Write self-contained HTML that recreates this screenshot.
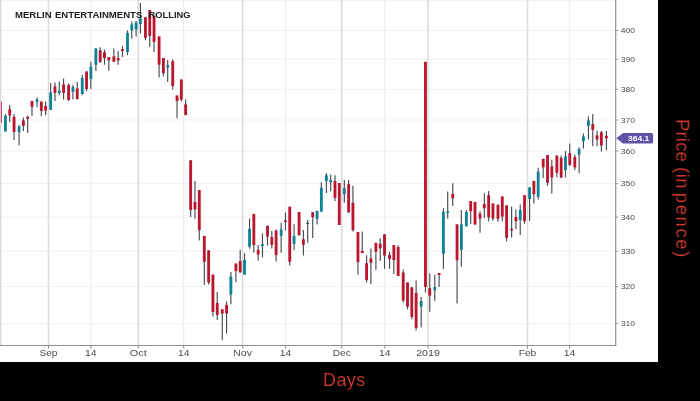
<!DOCTYPE html>
<html><head><meta charset="utf-8"><style>
html,body{margin:0;padding:0;background:#000;}
body{width:700px;height:401px;overflow:hidden;position:relative;font-family:"Liberation Sans",sans-serif;}
#chart{position:absolute;left:0;top:0;width:658px;height:361.8px;background:#fff;overflow:hidden;}
svg{position:absolute;left:0;top:0;will-change:transform;}
svg text{font-family:"Liberation Sans",sans-serif;}
#days{position:absolute;left:322.6px;letter-spacing:0.4px;top:369.5px;font-size:18px;line-height:21px;color:#cf392e;will-change:transform;-webkit-text-stroke:0.12px #000;white-space:nowrap;}
#price{position:absolute;left:0;top:0;width:0;height:0;transform-origin:0 0;transform:translate(692.3px,0px) rotate(90deg);will-change:transform;}
#price span{position:absolute;top:0;font-size:18.5px;line-height:20px;color:#cf392e;white-space:nowrap;-webkit-text-stroke:0.12px #000;}
</style></head><body>
<div id="chart">
<svg width="658" height="362" viewBox="0 0 658 362">
<line x1="0" x2="615.6" y1="30.4" y2="30.4" stroke="#f1f1f1" stroke-width="1"/>
<line x1="0" x2="615.6" y1="59.3" y2="59.3" stroke="#f1f1f1" stroke-width="1"/>
<line x1="0" x2="615.6" y1="89.4" y2="89.4" stroke="#f1f1f1" stroke-width="1"/>
<line x1="0" x2="615.6" y1="120.0" y2="120.0" stroke="#f1f1f1" stroke-width="1"/>
<line x1="0" x2="615.6" y1="151.2" y2="151.2" stroke="#f1f1f1" stroke-width="1"/>
<line x1="0" x2="615.6" y1="183.6" y2="183.6" stroke="#f1f1f1" stroke-width="1"/>
<line x1="0" x2="615.6" y1="217.1" y2="217.1" stroke="#f1f1f1" stroke-width="1"/>
<line x1="0" x2="615.6" y1="251.3" y2="251.3" stroke="#f1f1f1" stroke-width="1"/>
<line x1="0" x2="615.6" y1="286.6" y2="286.6" stroke="#f1f1f1" stroke-width="1"/>
<line x1="0" x2="615.6" y1="323.6" y2="323.6" stroke="#f1f1f1" stroke-width="1"/>
<line x1="0" x2="615.6" y1="0.3" y2="0.3" stroke="#f1f1f1" stroke-width="1"/>
<line x1="90.8" x2="90.8" y1="0" y2="345.5" stroke="#eeeeee" stroke-width="1.2"/>
<line x1="183.7" x2="183.7" y1="0" y2="345.5" stroke="#eeeeee" stroke-width="1.2"/>
<line x1="285.5" x2="285.5" y1="0" y2="345.5" stroke="#eeeeee" stroke-width="1.2"/>
<line x1="384.8" x2="384.8" y1="0" y2="345.5" stroke="#eeeeee" stroke-width="1.2"/>
<line x1="569.6" x2="569.6" y1="0" y2="345.5" stroke="#eeeeee" stroke-width="1.2"/>
<line x1="48.5" x2="48.5" y1="0" y2="345.5" stroke="#dbdbdb" stroke-width="1.5"/>
<line x1="138.2" x2="138.2" y1="0" y2="345.5" stroke="#dbdbdb" stroke-width="1.5"/>
<line x1="242.6" x2="242.6" y1="0" y2="345.5" stroke="#dbdbdb" stroke-width="1.5"/>
<line x1="341.8" x2="341.8" y1="0" y2="345.5" stroke="#dbdbdb" stroke-width="1.5"/>
<line x1="428.0" x2="428.0" y1="0" y2="345.5" stroke="#dbdbdb" stroke-width="1.5"/>
<line x1="527.5" x2="527.5" y1="0" y2="345.5" stroke="#dbdbdb" stroke-width="1.5"/>
<line x1="0.6" x2="0.6" y1="0" y2="345.5" stroke="#d4d4dc" stroke-width="1.3"/>
<line x1="1.45" x2="1.45" y1="101.6" y2="122.9" stroke="#d63a55" stroke-width="1"/>
<line x1="5.43" x2="5.43" y1="114.3" y2="131.5" stroke="#444c56" stroke-width="1.15"/>
<rect x="4.01" y="115.9" width="2.84" height="15.6" fill="#0f8296"/>
<line x1="9.73" x2="9.73" y1="104.9" y2="122.3" stroke="#444c56" stroke-width="1.15"/>
<rect x="8.31" y="109.3" width="2.84" height="6.2" fill="#ba162e"/>
<line x1="14.04" x2="14.04" y1="113.9" y2="139.9" stroke="#444c56" stroke-width="1.15"/>
<rect x="12.62" y="116.9" width="2.84" height="15.0" fill="#ba162e"/>
<line x1="19.07" x2="19.07" y1="124.9" y2="145.2" stroke="#444c56" stroke-width="1.15"/>
<rect x="17.65" y="126.5" width="2.84" height="5.4" fill="#0f8296"/>
<line x1="23.38" x2="23.38" y1="117.5" y2="130.9" stroke="#444c56" stroke-width="1.15"/>
<rect x="21.96" y="120.3" width="2.84" height="5.6" fill="#ba162e"/>
<line x1="27.68" x2="27.68" y1="115.5" y2="132.9" stroke="#444c56" stroke-width="1.15"/>
<rect x="26.26" y="116.9" width="2.84" height="2.0" fill="#ba162e"/>
<line x1="31.99" x2="31.99" y1="100.9" y2="115.9" stroke="#444c56" stroke-width="1.15"/>
<rect x="30.57" y="100.9" width="2.84" height="6.0" fill="#ba162e"/>
<line x1="37.02" x2="37.02" y1="97.5" y2="107.3" stroke="#444c56" stroke-width="1.15"/>
<rect x="35.60" y="99.5" width="2.84" height="2.4" fill="#0f8296"/>
<line x1="41.33" x2="41.33" y1="101.5" y2="116.3" stroke="#444c56" stroke-width="1.15"/>
<rect x="39.91" y="101.5" width="2.84" height="9.4" fill="#ba162e"/>
<line x1="45.63" x2="45.63" y1="101.5" y2="114.9" stroke="#444c56" stroke-width="1.15"/>
<rect x="44.21" y="105.9" width="2.84" height="4.6" fill="#ba162e"/>
<line x1="50.66" x2="50.66" y1="83" y2="109.9" stroke="#444c56" stroke-width="1.15"/>
<rect x="49.24" y="92.4" width="2.84" height="17.5" fill="#0f8296"/>
<line x1="54.97" x2="54.97" y1="82.4" y2="100.9" stroke="#444c56" stroke-width="1.15"/>
<rect x="53.55" y="86.4" width="2.84" height="6.6" fill="#ba162e"/>
<line x1="59.28" x2="59.28" y1="81.4" y2="95.3" stroke="#444c56" stroke-width="1.15"/>
<rect x="57.86" y="90.6" width="2.84" height="2.4" fill="#0f8296"/>
<line x1="63.58" x2="63.58" y1="78.6" y2="99.5" stroke="#444c56" stroke-width="1.15"/>
<rect x="62.16" y="84.4" width="2.84" height="8.6" fill="#ba162e"/>
<line x1="68.61" x2="68.61" y1="83.6" y2="100.9" stroke="#444c56" stroke-width="1.15"/>
<rect x="67.19" y="85" width="2.84" height="14.9" fill="#ba162e"/>
<line x1="72.92" x2="72.92" y1="85" y2="99.5" stroke="#444c56" stroke-width="1.15"/>
<rect x="71.50" y="87" width="2.84" height="5.0" fill="#0f8296"/>
<line x1="77.23" x2="77.23" y1="82" y2="99.5" stroke="#444c56" stroke-width="1.15"/>
<rect x="75.81" y="88.4" width="2.84" height="10.5" fill="#ba162e"/>
<line x1="82.25" x2="82.25" y1="75" y2="95.3" stroke="#444c56" stroke-width="1.15"/>
<rect x="80.83" y="78" width="2.84" height="16.0" fill="#0f8296"/>
<line x1="86.56" x2="86.56" y1="71" y2="91" stroke="#444c56" stroke-width="1.15"/>
<rect x="85.14" y="71.6" width="2.84" height="17.4" fill="#ba162e"/>
<line x1="90.87" x2="90.87" y1="61.8" y2="89.1" stroke="#444c56" stroke-width="1.15"/>
<rect x="89.45" y="66.6" width="2.84" height="12.4" fill="#0f8296"/>
<line x1="95.89" x2="95.89" y1="47.9" y2="71.1" stroke="#444c56" stroke-width="1.15"/>
<rect x="94.47" y="48.6" width="2.84" height="16.1" fill="#0f8296"/>
<line x1="100.20" x2="100.20" y1="47.2" y2="63" stroke="#444c56" stroke-width="1.15"/>
<rect x="98.78" y="50.3" width="2.84" height="11.5" fill="#ba162e"/>
<line x1="104.51" x2="104.51" y1="49.6" y2="64.7" stroke="#444c56" stroke-width="1.15"/>
<rect x="103.09" y="52.2" width="2.84" height="6.0" fill="#ba162e"/>
<line x1="108.82" x2="108.82" y1="57" y2="70.7" stroke="#444c56" stroke-width="1.15"/>
<rect x="107.40" y="57" width="2.84" height="3.4" fill="#ba162e"/>
<line x1="113.84" x2="113.84" y1="48.6" y2="61.8" stroke="#444c56" stroke-width="1.15"/>
<rect x="112.42" y="56.3" width="2.84" height="5.5" fill="#ba162e"/>
<line x1="118.15" x2="118.15" y1="51" y2="64.7" stroke="#444c56" stroke-width="1.15"/>
<rect x="116.73" y="58.2" width="2.84" height="2.2" fill="#ba162e"/>
<line x1="122.46" x2="122.46" y1="46.2" y2="57" stroke="#444c56" stroke-width="1.15"/>
<rect x="121.04" y="49.1" width="2.84" height="1.9" fill="#ba162e"/>
<line x1="127.49" x2="127.49" y1="30.4" y2="55.1" stroke="#444c56" stroke-width="1.15"/>
<rect x="126.07" y="33" width="2.84" height="19.0" fill="#0f8296"/>
<line x1="131.79" x2="131.79" y1="21.6" y2="38.8" stroke="#444c56" stroke-width="1.15"/>
<rect x="130.37" y="24.4" width="2.84" height="6.0" fill="#0f8296"/>
<line x1="136.10" x2="136.10" y1="21" y2="36.4" stroke="#444c56" stroke-width="1.15"/>
<rect x="134.68" y="22.8" width="2.84" height="6.4" fill="#0f8296"/>
<line x1="140.41" x2="140.41" y1="3.1" y2="33.5" stroke="#444c56" stroke-width="1.15"/>
<rect x="138.99" y="18.4" width="2.84" height="5.6" fill="#0f8296"/>
<line x1="145.44" x2="145.44" y1="17.2" y2="40.2" stroke="#444c56" stroke-width="1.15"/>
<rect x="144.02" y="17.2" width="2.84" height="20.6" fill="#ba162e"/>
<line x1="149.74" x2="149.74" y1="10" y2="46.7" stroke="#444c56" stroke-width="1.15"/>
<rect x="148.32" y="10" width="2.84" height="25.9" fill="#ba162e"/>
<line x1="154.05" x2="154.05" y1="15.6" y2="52" stroke="#444c56" stroke-width="1.15"/>
<rect x="152.63" y="15.6" width="2.84" height="26.3" fill="#ba162e"/>
<line x1="159.08" x2="159.08" y1="36.4" y2="77.4" stroke="#444c56" stroke-width="1.15"/>
<rect x="157.66" y="36.4" width="2.84" height="28.3" fill="#ba162e"/>
<line x1="163.39" x2="163.39" y1="57.9" y2="76.4" stroke="#444c56" stroke-width="1.15"/>
<rect x="161.97" y="57.9" width="2.84" height="15.3" fill="#ba162e"/>
<line x1="167.69" x2="167.69" y1="60" y2="82" stroke="#444c56" stroke-width="1.15"/>
<rect x="166.27" y="65.1" width="2.84" height="2.5" fill="#0f8296"/>
<line x1="172.72" x2="172.72" y1="59.4" y2="89.4" stroke="#444c56" stroke-width="1.15"/>
<rect x="171.30" y="61.2" width="2.84" height="24.8" fill="#ba162e"/>
<line x1="177.03" x2="177.03" y1="95.5" y2="118.3" stroke="#444c56" stroke-width="1.15"/>
<rect x="175.61" y="95.5" width="2.84" height="5.5" fill="#ba162e"/>
<line x1="181.34" x2="181.34" y1="79.5" y2="101.5" stroke="#444c56" stroke-width="1.15"/>
<rect x="179.92" y="79.5" width="2.84" height="20.1" fill="#ba162e"/>
<line x1="185.64" x2="185.64" y1="99.6" y2="115.1" stroke="#444c56" stroke-width="1.15"/>
<rect x="184.22" y="104.4" width="2.84" height="10.7" fill="#ba162e"/>
<line x1="190.67" x2="190.67" y1="160.3" y2="217.1" stroke="#444c56" stroke-width="1.15"/>
<rect x="189.25" y="160.3" width="2.84" height="49.6" fill="#ba162e"/>
<line x1="194.98" x2="194.98" y1="181.1" y2="218.7" stroke="#444c56" stroke-width="1.15"/>
<rect x="193.56" y="202" width="2.84" height="7.4" fill="#ba162e"/>
<line x1="199.29" x2="199.29" y1="190" y2="240.5" stroke="#444c56" stroke-width="1.15"/>
<rect x="197.87" y="190" width="2.84" height="40.2" fill="#ba162e"/>
<line x1="204.31" x2="204.31" y1="235.9" y2="285" stroke="#444c56" stroke-width="1.15"/>
<rect x="202.89" y="235.9" width="2.84" height="25.9" fill="#ba162e"/>
<line x1="208.62" x2="208.62" y1="250.3" y2="284.4" stroke="#444c56" stroke-width="1.15"/>
<rect x="207.20" y="250.3" width="2.84" height="32.2" fill="#ba162e"/>
<line x1="212.93" x2="212.93" y1="274.6" y2="316.5" stroke="#444c56" stroke-width="1.15"/>
<rect x="211.51" y="274.6" width="2.84" height="37.3" fill="#ba162e"/>
<line x1="217.24" x2="217.24" y1="291.9" y2="319.9" stroke="#444c56" stroke-width="1.15"/>
<rect x="215.82" y="302.9" width="2.84" height="12.0" fill="#ba162e"/>
<line x1="222.26" x2="222.26" y1="309.3" y2="340.2" stroke="#444c56" stroke-width="1.15"/>
<rect x="220.84" y="309.3" width="2.84" height="4.2" fill="#ba162e"/>
<line x1="226.57" x2="226.57" y1="301.3" y2="333.5" stroke="#444c56" stroke-width="1.15"/>
<rect x="225.15" y="304.9" width="2.84" height="8.6" fill="#ba162e"/>
<line x1="230.88" x2="230.88" y1="272" y2="304.3" stroke="#444c56" stroke-width="1.15"/>
<rect x="229.46" y="276.6" width="2.84" height="17.9" fill="#0f8296"/>
<line x1="235.90" x2="235.90" y1="263.5" y2="282.3" stroke="#444c56" stroke-width="1.15"/>
<rect x="234.48" y="263.5" width="2.84" height="7.6" fill="#ba162e"/>
<line x1="240.21" x2="240.21" y1="249.8" y2="272.5" stroke="#444c56" stroke-width="1.15"/>
<rect x="238.79" y="261.1" width="2.84" height="11.4" fill="#ba162e"/>
<line x1="244.52" x2="244.52" y1="253.2" y2="274.6" stroke="#444c56" stroke-width="1.15"/>
<rect x="243.10" y="259.9" width="2.84" height="14.7" fill="#0f8296"/>
<line x1="249.55" x2="249.55" y1="218.7" y2="248.6" stroke="#444c56" stroke-width="1.15"/>
<rect x="248.13" y="228.7" width="2.84" height="18.0" fill="#0f8296"/>
<line x1="253.85" x2="253.85" y1="213.9" y2="252.7" stroke="#444c56" stroke-width="1.15"/>
<rect x="252.43" y="213.9" width="2.84" height="31.1" fill="#ba162e"/>
<line x1="258.16" x2="258.16" y1="245" y2="260.6" stroke="#444c56" stroke-width="1.15"/>
<rect x="256.74" y="249.8" width="2.84" height="4.8" fill="#ba162e"/>
<line x1="262.47" x2="262.47" y1="233.5" y2="257.5" stroke="#444c56" stroke-width="1.15"/>
<rect x="261.05" y="244.3" width="2.84" height="1.7" fill="#0f8296"/>
<line x1="267.50" x2="267.50" y1="225.4" y2="245.5" stroke="#444c56" stroke-width="1.15"/>
<rect x="266.08" y="225.9" width="2.84" height="10.7" fill="#ba162e"/>
<line x1="271.80" x2="271.80" y1="231.1" y2="248.6" stroke="#444c56" stroke-width="1.15"/>
<rect x="270.38" y="237.1" width="2.84" height="7.7" fill="#ba162e"/>
<line x1="276.11" x2="276.11" y1="229.5" y2="261.6" stroke="#444c56" stroke-width="1.15"/>
<rect x="274.69" y="230.4" width="2.84" height="24.7" fill="#ba162e"/>
<line x1="281.14" x2="281.14" y1="222.8" y2="252.7" stroke="#444c56" stroke-width="1.15"/>
<rect x="279.72" y="229.5" width="2.84" height="6.4" fill="#0f8296"/>
<line x1="285.45" x2="285.45" y1="212.5" y2="230.4" stroke="#444c56" stroke-width="1.15"/>
<rect x="284.03" y="220.4" width="2.84" height="1.6" fill="#ba162e"/>
<line x1="289.75" x2="289.75" y1="206.7" y2="265.4" stroke="#444c56" stroke-width="1.15"/>
<rect x="288.33" y="206.7" width="2.84" height="55.1" fill="#ba162e"/>
<line x1="294.06" x2="294.06" y1="224.2" y2="249.9" stroke="#444c56" stroke-width="1.15"/>
<rect x="292.64" y="235.8" width="2.84" height="8.1" fill="#0f8296"/>
<line x1="299.09" x2="299.09" y1="212.1" y2="236.1" stroke="#444c56" stroke-width="1.15"/>
<rect x="297.67" y="212.1" width="2.84" height="22.8" fill="#ba162e"/>
<line x1="303.40" x2="303.40" y1="230.1" y2="255.5" stroke="#444c56" stroke-width="1.15"/>
<rect x="301.98" y="239.3" width="2.84" height="5.5" fill="#ba162e"/>
<line x1="307.70" x2="307.70" y1="220.1" y2="242.8" stroke="#444c56" stroke-width="1.15"/>
<rect x="306.28" y="222.8" width="2.84" height="1.2" fill="#444c56"/>
<line x1="312.73" x2="312.73" y1="212.2" y2="238.1" stroke="#444c56" stroke-width="1.15"/>
<rect x="311.31" y="212.2" width="2.84" height="5.0" fill="#ba162e"/>
<line x1="317.04" x2="317.04" y1="210.5" y2="224.4" stroke="#444c56" stroke-width="1.15"/>
<rect x="315.62" y="211" width="2.84" height="7.9" fill="#0f8296"/>
<line x1="321.35" x2="321.35" y1="182.2" y2="211.7" stroke="#444c56" stroke-width="1.15"/>
<rect x="319.93" y="187.8" width="2.84" height="23.9" fill="#0f8296"/>
<line x1="326.37" x2="326.37" y1="172.9" y2="193" stroke="#444c56" stroke-width="1.15"/>
<rect x="324.95" y="175.3" width="2.84" height="5.7" fill="#0f8296"/>
<line x1="330.68" x2="330.68" y1="174.6" y2="191.3" stroke="#444c56" stroke-width="1.15"/>
<rect x="329.26" y="180.1" width="2.84" height="2.1" fill="#0f8296"/>
<line x1="334.99" x2="334.99" y1="175.3" y2="200.9" stroke="#444c56" stroke-width="1.15"/>
<rect x="333.57" y="181" width="2.84" height="16.8" fill="#ba162e"/>
<line x1="339.30" x2="339.30" y1="183" y2="224.9" stroke="#444c56" stroke-width="1.15"/>
<rect x="337.88" y="183" width="2.84" height="41.9" fill="#ba162e"/>
<line x1="344.32" x2="344.32" y1="179.9" y2="202.8" stroke="#444c56" stroke-width="1.15"/>
<rect x="342.90" y="188.2" width="2.84" height="6.0" fill="#0f8296"/>
<line x1="348.63" x2="348.63" y1="180.1" y2="213" stroke="#444c56" stroke-width="1.15"/>
<rect x="347.21" y="184.2" width="2.84" height="28.0" fill="#ba162e"/>
<line x1="352.94" x2="352.94" y1="185.8" y2="231.6" stroke="#444c56" stroke-width="1.15"/>
<rect x="351.52" y="202.8" width="2.84" height="27.4" fill="#ba162e"/>
<line x1="357.96" x2="357.96" y1="232.1" y2="274.8" stroke="#444c56" stroke-width="1.15"/>
<rect x="356.54" y="232.1" width="2.84" height="30.0" fill="#ba162e"/>
<line x1="362.27" x2="362.27" y1="231.5" y2="253" stroke="#444c56" stroke-width="1.15"/>
<rect x="360.85" y="250.9" width="2.84" height="2.1" fill="#ba162e"/>
<line x1="366.58" x2="366.58" y1="255.2" y2="282.5" stroke="#444c56" stroke-width="1.15"/>
<rect x="365.16" y="263.3" width="2.84" height="16.8" fill="#ba162e"/>
<line x1="370.89" x2="370.89" y1="248.5" y2="284.2" stroke="#444c56" stroke-width="1.15"/>
<rect x="369.47" y="258.5" width="2.84" height="4.3" fill="#ba162e"/>
<line x1="375.91" x2="375.91" y1="242.5" y2="269.8" stroke="#444c56" stroke-width="1.15"/>
<rect x="374.49" y="243" width="2.84" height="8.9" fill="#ba162e"/>
<line x1="380.22" x2="380.22" y1="238.2" y2="260.9" stroke="#444c56" stroke-width="1.15"/>
<rect x="378.80" y="243.7" width="2.84" height="4.6" fill="#ba162e"/>
<line x1="384.53" x2="384.53" y1="234.3" y2="268.8" stroke="#444c56" stroke-width="1.15"/>
<rect x="383.11" y="234.3" width="2.84" height="21.3" fill="#ba162e"/>
<line x1="389.56" x2="389.56" y1="251.8" y2="268.8" stroke="#444c56" stroke-width="1.15"/>
<rect x="388.14" y="254.9" width="2.84" height="4.1" fill="#ba162e"/>
<line x1="393.86" x2="393.86" y1="245" y2="274.1" stroke="#444c56" stroke-width="1.15"/>
<rect x="392.44" y="245" width="2.84" height="15.2" fill="#ba162e"/>
<line x1="398.17" x2="398.17" y1="245.3" y2="276" stroke="#444c56" stroke-width="1.15"/>
<rect x="396.75" y="247" width="2.84" height="29.0" fill="#ba162e"/>
<line x1="403.20" x2="403.20" y1="269.4" y2="302.6" stroke="#444c56" stroke-width="1.15"/>
<rect x="401.78" y="272.5" width="2.84" height="28.0" fill="#ba162e"/>
<line x1="407.51" x2="407.51" y1="282.5" y2="309.3" stroke="#444c56" stroke-width="1.15"/>
<rect x="406.09" y="282.5" width="2.84" height="24.2" fill="#ba162e"/>
<line x1="411.81" x2="411.81" y1="287.3" y2="319.2" stroke="#444c56" stroke-width="1.15"/>
<rect x="410.39" y="287.3" width="2.84" height="29.7" fill="#ba162e"/>
<line x1="416.12" x2="416.12" y1="280.6" y2="330.5" stroke="#444c56" stroke-width="1.15"/>
<rect x="414.70" y="292.9" width="2.84" height="35.0" fill="#ba162e"/>
<line x1="421.15" x2="421.15" y1="296.9" y2="327.5" stroke="#444c56" stroke-width="1.15"/>
<rect x="419.73" y="301" width="2.84" height="5.7" fill="#0f8296"/>
<line x1="425.46" x2="425.46" y1="61.8" y2="292.5" stroke="#444c56" stroke-width="1.15"/>
<rect x="424.04" y="61.8" width="2.84" height="225.2" fill="#ba162e"/>
<line x1="429.76" x2="429.76" y1="273.4" y2="311.8" stroke="#444c56" stroke-width="1.15"/>
<rect x="428.34" y="288.2" width="2.84" height="7.4" fill="#ba162e"/>
<line x1="434.79" x2="434.79" y1="274.7" y2="301" stroke="#444c56" stroke-width="1.15"/>
<rect x="433.37" y="287.1" width="2.84" height="3.2" fill="#0f8296"/>
<line x1="439.10" x2="439.10" y1="273" y2="286.9" stroke="#444c56" stroke-width="1.15"/>
<rect x="437.68" y="273" width="2.84" height="2.0" fill="#ba162e"/>
<line x1="443.41" x2="443.41" y1="208.3" y2="268.7" stroke="#444c56" stroke-width="1.15"/>
<rect x="441.99" y="211.9" width="2.84" height="41.9" fill="#0f8296"/>
<line x1="447.71" x2="447.71" y1="191.6" y2="218.6" stroke="#444c56" stroke-width="1.15"/>
<rect x="446.29" y="211.4" width="2.84" height="1.7" fill="#0f8296"/>
<line x1="452.74" x2="452.74" y1="183.2" y2="205.9" stroke="#444c56" stroke-width="1.15"/>
<rect x="451.32" y="194" width="2.84" height="4.3" fill="#ba162e"/>
<line x1="457.05" x2="457.05" y1="224.4" y2="303.5" stroke="#444c56" stroke-width="1.15"/>
<rect x="455.63" y="224.4" width="2.84" height="35.9" fill="#ba162e"/>
<line x1="461.36" x2="461.36" y1="210" y2="266.7" stroke="#444c56" stroke-width="1.15"/>
<rect x="459.94" y="224.4" width="2.84" height="25.4" fill="#0f8296"/>
<line x1="466.38" x2="466.38" y1="210" y2="226.3" stroke="#444c56" stroke-width="1.15"/>
<rect x="464.96" y="211.9" width="2.84" height="14.4" fill="#0f8296"/>
<line x1="470.69" x2="470.69" y1="201.1" y2="223.9" stroke="#444c56" stroke-width="1.15"/>
<rect x="469.27" y="201.1" width="2.84" height="10.1" fill="#ba162e"/>
<line x1="475.00" x2="475.00" y1="201.9" y2="224.6" stroke="#444c56" stroke-width="1.15"/>
<rect x="473.58" y="201.9" width="2.84" height="22.7" fill="#ba162e"/>
<line x1="480.02" x2="480.02" y1="211.2" y2="232.8" stroke="#444c56" stroke-width="1.15"/>
<rect x="478.60" y="213.6" width="2.84" height="5.0" fill="#ba162e"/>
<line x1="484.33" x2="484.33" y1="193.2" y2="217.9" stroke="#444c56" stroke-width="1.15"/>
<rect x="482.91" y="204" width="2.84" height="4.3" fill="#ba162e"/>
<line x1="488.64" x2="488.64" y1="191.1" y2="221.5" stroke="#444c56" stroke-width="1.15"/>
<rect x="487.22" y="195.1" width="2.84" height="22.1" fill="#ba162e"/>
<line x1="492.95" x2="492.95" y1="203.5" y2="220.8" stroke="#444c56" stroke-width="1.15"/>
<rect x="491.53" y="203.5" width="2.84" height="15.1" fill="#ba162e"/>
<line x1="497.97" x2="497.97" y1="203.9" y2="221.7" stroke="#444c56" stroke-width="1.15"/>
<rect x="496.55" y="205" width="2.84" height="13.8" fill="#ba162e"/>
<line x1="502.28" x2="502.28" y1="196.5" y2="221.2" stroke="#444c56" stroke-width="1.15"/>
<rect x="500.86" y="196.5" width="2.84" height="20.0" fill="#ba162e"/>
<line x1="506.59" x2="506.59" y1="205.4" y2="241.4" stroke="#444c56" stroke-width="1.15"/>
<rect x="505.17" y="205.4" width="2.84" height="32.4" fill="#ba162e"/>
<line x1="511.62" x2="511.62" y1="206.4" y2="237.5" stroke="#444c56" stroke-width="1.15"/>
<rect x="510.20" y="228.7" width="2.84" height="1.7" fill="#ba162e"/>
<line x1="515.92" x2="515.92" y1="209.5" y2="229.3" stroke="#444c56" stroke-width="1.15"/>
<rect x="514.50" y="217" width="2.84" height="4.2" fill="#ba162e"/>
<line x1="520.23" x2="520.23" y1="204.5" y2="235.1" stroke="#444c56" stroke-width="1.15"/>
<rect x="518.81" y="210" width="2.84" height="9.9" fill="#0f8296"/>
<line x1="524.54" x2="524.54" y1="195.2" y2="223.7" stroke="#444c56" stroke-width="1.15"/>
<rect x="523.12" y="195.2" width="2.84" height="26.0" fill="#ba162e"/>
<line x1="529.57" x2="529.57" y1="187.3" y2="220.9" stroke="#444c56" stroke-width="1.15"/>
<rect x="528.15" y="187.3" width="2.84" height="11.6" fill="#0f8296"/>
<line x1="533.87" x2="533.87" y1="180.9" y2="203.5" stroke="#444c56" stroke-width="1.15"/>
<rect x="532.45" y="180.9" width="2.84" height="13.3" fill="#ba162e"/>
<line x1="538.18" x2="538.18" y1="167.7" y2="199.5" stroke="#444c56" stroke-width="1.15"/>
<rect x="536.76" y="171.5" width="2.84" height="25.4" fill="#0f8296"/>
<line x1="543.21" x2="543.21" y1="158.8" y2="177.9" stroke="#444c56" stroke-width="1.15"/>
<rect x="541.79" y="158.8" width="2.84" height="8.6" fill="#ba162e"/>
<line x1="547.52" x2="547.52" y1="155" y2="185.8" stroke="#444c56" stroke-width="1.15"/>
<rect x="546.10" y="155" width="2.84" height="27.8" fill="#ba162e"/>
<line x1="551.82" x2="551.82" y1="159.7" y2="193.5" stroke="#444c56" stroke-width="1.15"/>
<rect x="550.40" y="166.4" width="2.84" height="11.1" fill="#ba162e"/>
<line x1="556.85" x2="556.85" y1="155.6" y2="177.2" stroke="#444c56" stroke-width="1.15"/>
<rect x="555.43" y="155.6" width="2.84" height="17.2" fill="#ba162e"/>
<line x1="561.16" x2="561.16" y1="155.6" y2="178.3" stroke="#444c56" stroke-width="1.15"/>
<rect x="559.74" y="157.8" width="2.84" height="19.7" fill="#ba162e"/>
<line x1="565.47" x2="565.47" y1="151" y2="177.5" stroke="#444c56" stroke-width="1.15"/>
<rect x="564.05" y="156.1" width="2.84" height="13.9" fill="#0f8296"/>
<line x1="569.77" x2="569.77" y1="143.6" y2="165.9" stroke="#444c56" stroke-width="1.15"/>
<rect x="568.35" y="153.1" width="2.84" height="11.7" fill="#ba162e"/>
<line x1="574.80" x2="574.80" y1="154.6" y2="170" stroke="#444c56" stroke-width="1.15"/>
<rect x="573.38" y="156.9" width="2.84" height="10.5" fill="#ba162e"/>
<line x1="579.11" x2="579.11" y1="147.2" y2="173.3" stroke="#444c56" stroke-width="1.15"/>
<rect x="577.69" y="149.1" width="2.84" height="5.5" fill="#0f8296"/>
<line x1="583.42" x2="583.42" y1="133.5" y2="148.6" stroke="#444c56" stroke-width="1.15"/>
<rect x="582.00" y="136.4" width="2.84" height="4.8" fill="#0f8296"/>
<line x1="588.44" x2="588.44" y1="116.3" y2="139.5" stroke="#444c56" stroke-width="1.15"/>
<rect x="587.02" y="120.4" width="2.84" height="5.5" fill="#0f8296"/>
<line x1="592.75" x2="592.75" y1="113.9" y2="146.2" stroke="#444c56" stroke-width="1.15"/>
<rect x="591.33" y="124" width="2.84" height="5.9" fill="#ba162e"/>
<line x1="597.06" x2="597.06" y1="130.7" y2="146.2" stroke="#444c56" stroke-width="1.15"/>
<rect x="595.64" y="135.4" width="2.84" height="4.1" fill="#ba162e"/>
<line x1="601.37" x2="601.37" y1="131.1" y2="151.5" stroke="#444c56" stroke-width="1.15"/>
<rect x="599.95" y="132.3" width="2.84" height="13.2" fill="#ba162e"/>
<line x1="606.39" x2="606.39" y1="131.1" y2="150.3" stroke="#444c56" stroke-width="1.15"/>
<rect x="604.97" y="135.9" width="2.84" height="2.4" fill="#ba162e"/>
<line x1="0" x2="616.2" y1="345.5" y2="345.5" stroke="#8f8f8f" stroke-width="1.1"/>
<line x1="615.7" x2="615.7" y1="0" y2="346" stroke="#8f8f8f" stroke-width="1.2"/>
<line x1="615.7" x2="618.4" y1="30.4" y2="30.4" stroke="#9c9c9c" stroke-width="1"/>
<text x="620.7" y="33.2" font-size="7.7" fill="#4c4c4c" textLength="14.3" lengthAdjust="spacingAndGlyphs">400</text>
<line x1="615.7" x2="618.4" y1="59.3" y2="59.3" stroke="#9c9c9c" stroke-width="1"/>
<text x="620.7" y="62.1" font-size="7.7" fill="#4c4c4c" textLength="14.3" lengthAdjust="spacingAndGlyphs">390</text>
<line x1="615.7" x2="618.4" y1="89.4" y2="89.4" stroke="#9c9c9c" stroke-width="1"/>
<text x="620.7" y="92.2" font-size="7.7" fill="#4c4c4c" textLength="14.3" lengthAdjust="spacingAndGlyphs">380</text>
<line x1="615.7" x2="618.4" y1="120.0" y2="120.0" stroke="#9c9c9c" stroke-width="1"/>
<text x="620.7" y="122.8" font-size="7.7" fill="#4c4c4c" textLength="14.3" lengthAdjust="spacingAndGlyphs">370</text>
<line x1="615.7" x2="618.4" y1="151.2" y2="151.2" stroke="#9c9c9c" stroke-width="1"/>
<text x="620.7" y="154.0" font-size="7.7" fill="#4c4c4c" textLength="14.3" lengthAdjust="spacingAndGlyphs">360</text>
<line x1="615.7" x2="618.4" y1="183.6" y2="183.6" stroke="#9c9c9c" stroke-width="1"/>
<text x="620.7" y="186.4" font-size="7.7" fill="#4c4c4c" textLength="14.3" lengthAdjust="spacingAndGlyphs">350</text>
<line x1="615.7" x2="618.4" y1="217.1" y2="217.1" stroke="#9c9c9c" stroke-width="1"/>
<text x="620.7" y="219.9" font-size="7.7" fill="#4c4c4c" textLength="14.3" lengthAdjust="spacingAndGlyphs">340</text>
<line x1="615.7" x2="618.4" y1="251.3" y2="251.3" stroke="#9c9c9c" stroke-width="1"/>
<text x="620.7" y="254.1" font-size="7.7" fill="#4c4c4c" textLength="14.3" lengthAdjust="spacingAndGlyphs">330</text>
<line x1="615.7" x2="618.4" y1="286.6" y2="286.6" stroke="#9c9c9c" stroke-width="1"/>
<text x="620.7" y="289.4" font-size="7.7" fill="#4c4c4c" textLength="14.3" lengthAdjust="spacingAndGlyphs">320</text>
<line x1="615.7" x2="618.4" y1="323.6" y2="323.6" stroke="#9c9c9c" stroke-width="1"/>
<text x="620.7" y="326.4" font-size="7.7" fill="#4c4c4c" textLength="14.3" lengthAdjust="spacingAndGlyphs">310</text>
<line x1="48.5" x2="48.5" y1="345.5" y2="348.6" stroke="#8f8f8f" stroke-width="1.1"/>
<text x="39.5" y="355.7" font-size="8.6" fill="#4c4c4c" textLength="18" lengthAdjust="spacingAndGlyphs">Sep</text>
<line x1="138.2" x2="138.2" y1="345.5" y2="348.6" stroke="#8f8f8f" stroke-width="1.1"/>
<text x="129.7" y="355.7" font-size="8.6" fill="#4c4c4c" textLength="17" lengthAdjust="spacingAndGlyphs">Oct</text>
<line x1="242.6" x2="242.6" y1="345.5" y2="348.6" stroke="#8f8f8f" stroke-width="1.1"/>
<text x="233.1" y="355.7" font-size="8.6" fill="#4c4c4c" textLength="19" lengthAdjust="spacingAndGlyphs">Nov</text>
<line x1="341.8" x2="341.8" y1="345.5" y2="348.6" stroke="#8f8f8f" stroke-width="1.1"/>
<text x="332.8" y="355.7" font-size="8.6" fill="#4c4c4c" textLength="18" lengthAdjust="spacingAndGlyphs">Dec</text>
<line x1="428.0" x2="428.0" y1="345.5" y2="348.6" stroke="#8f8f8f" stroke-width="1.1"/>
<text x="416.2" y="355.7" font-size="8.6" fill="#4c4c4c" textLength="23.6" lengthAdjust="spacingAndGlyphs">2019</text>
<line x1="527.5" x2="527.5" y1="345.5" y2="348.6" stroke="#8f8f8f" stroke-width="1.1"/>
<text x="518.7" y="355.7" font-size="8.6" fill="#4c4c4c" textLength="17.6" lengthAdjust="spacingAndGlyphs">Feb</text>
<line x1="90.8" x2="90.8" y1="345.5" y2="348.6" stroke="#8f8f8f" stroke-width="1.1"/>
<text x="85.0" y="355.7" font-size="8.6" fill="#4c4c4c" textLength="11.6" lengthAdjust="spacingAndGlyphs">14</text>
<line x1="183.7" x2="183.7" y1="345.5" y2="348.6" stroke="#8f8f8f" stroke-width="1.1"/>
<text x="177.9" y="355.7" font-size="8.6" fill="#4c4c4c" textLength="11.6" lengthAdjust="spacingAndGlyphs">14</text>
<line x1="285.5" x2="285.5" y1="345.5" y2="348.6" stroke="#8f8f8f" stroke-width="1.1"/>
<text x="279.7" y="355.7" font-size="8.6" fill="#4c4c4c" textLength="11.6" lengthAdjust="spacingAndGlyphs">14</text>
<line x1="384.8" x2="384.8" y1="345.5" y2="348.6" stroke="#8f8f8f" stroke-width="1.1"/>
<text x="379.0" y="355.7" font-size="8.6" fill="#4c4c4c" textLength="11.6" lengthAdjust="spacingAndGlyphs">14</text>
<line x1="569.6" x2="569.6" y1="345.5" y2="348.6" stroke="#8f8f8f" stroke-width="1.1"/>
<text x="563.8" y="355.7" font-size="8.6" fill="#4c4c4c" textLength="11.6" lengthAdjust="spacingAndGlyphs">14</text>
<g font-size="8.4" font-weight="bold" fill="#1c1c1c"><text x="14.9" y="18.2" textLength="36.8" lengthAdjust="spacingAndGlyphs">MERLIN</text><text x="54.9" y="18.2" textLength="87.4" lengthAdjust="spacingAndGlyphs">ENTERTAINMENTS</text><text x="148.5" y="18.2" textLength="42" lengthAdjust="spacingAndGlyphs">ROLLING</text></g>
<path d="M616.3 138.3 L623.1 132.9 L651.3 132.9 Q653.1 132.9 653.1 134.7 L653.1 141.8 Q653.1 143.6 651.3 143.6 L623.1 143.6 Z" fill="#6252a5"/>
<text x="628.1" y="141" font-size="7.3" font-weight="bold" fill="#fff" textLength="21.2" lengthAdjust="spacingAndGlyphs">364.1</text>
</svg>
</div>
<div id="days">Days</div>
<div id="price"><span style="left:119px;letter-spacing:0.18px">Price</span><span style="left:167.1px;letter-spacing:0.45px">(in</span><span style="left:192.8px;letter-spacing:1.6px">pence)</span></div>
</body></html>
